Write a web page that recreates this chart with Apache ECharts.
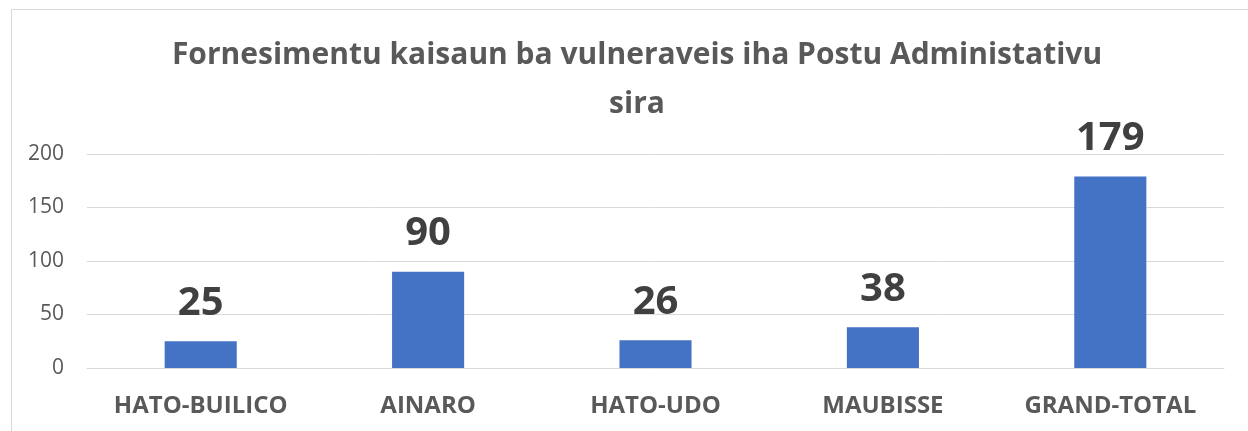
<!DOCTYPE html>
<html><head><meta charset="utf-8">
<script src="https://cdn.jsdelivr.net/npm/echarts@6/dist/echarts.min.js"></script>
<style>html,body{margin:0;padding:0;background:#fff}#c{width:1248px;height:431px}</style>
</head><body><div id="c"></div>
<script>
const categories = ['HATO-BUILICO', 'AINARO', 'HATO-UDO', 'MAUBISSE', 'GRAND-TOTAL'];
const values = [25, 90, 26, 38, 179];
const yTicks = [0, 50, 100, 150, 200];
const titleText = 'Fornesimentu kaisaun ba vulneraveis iha Postu Administativu\nsira';

const chart = echarts.init(document.getElementById('c'), null, {renderer: 'canvas'});
chart.setOption({
  animation: false,
  backgroundColor: '#fff',
  title: {
    text: titleText,
    left: 632, top: 26, textAlign: 'center',
    textStyle: {fontFamily: 'Open Sans', fontWeight: 'bold', fontSize: 30, color: '#595959', lineHeight: 49}
  },
  graphic: [{
    type: 'rect', shape: {x: 11.5, y: 9.5, width: 1400, height: 600},
    style: {fill: 'none', stroke: '#d9d9d9', lineWidth: 1}, silent: true
  }],
  grid: {left: 87, right: 24, top: 154, bottom: 63},
  xAxis: {
    type: 'category', data: categories,
    axisLine: {show: true, lineStyle: {color: '#d9d9d9', width: 1}},
    axisTick: {show: false},
    axisLabel: {margin: 26, fontFamily: 'Open Sans', fontWeight: 'bold', fontSize: 24, color: '#595959'}
  },
  yAxis: {
    type: 'value', min: yTicks[0], max: yTicks[yTicks.length - 1], interval: 50,
    axisLine: {show: false}, axisTick: {show: false},
    splitLine: {lineStyle: {color: '#d9d9d9', width: 1}},
    axisLabel: {margin: 23, fontFamily: 'Open Sans', fontSize: 21, color: '#595959'}
  },
  series: [{
    type: 'bar', data: values, barWidth: '31.7%',
    itemStyle: {color: '#4472c4'},
    label: {show: true, position: 'top', distance: 18, fontFamily: 'Open Sans', fontWeight: 'bold', fontSize: 40, color: '#404040'}
  }]
});
</script></body></html>
